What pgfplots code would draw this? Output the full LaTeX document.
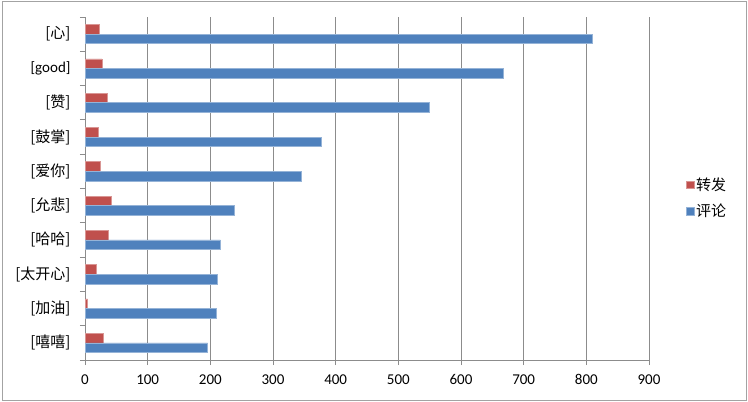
\documentclass[border=0pt]{standalone}
\usepackage{fontspec}
\setmainfont{Carlito}
\newfontfamily\cjk{Noto Sans CJK SC}
\usepackage{pgfplots}
\pgfplotsset{compat=1.18}
\definecolor{zfred}{HTML}{C0504D}
\definecolor{plblue}{HTML}{4F81BD}
\definecolor{gridgray}{HTML}{8C8C8C}

\begin{document}
\begin{tikzpicture}
\path (0bp,0bp) rectangle (748bp,402bp);
\draw[gridgray!80, line width=1bp] (2.5bp,1.5bp) rectangle (746bp,400.5bp);
\begin{axis}[
  at={(85bp,42bp)}, anchor=south west,
  scale only axis, width=564bp, height=343bp,
  xbar, bar width=9.6bp,
  xmin=0, xmax=900, ymin=-0.5, ymax=9.5,
  xtick={0,100,...,900},
  ytick={0,...,9},
  yticklabels={{\cjk [嘻嘻]},{\cjk [加油]},{\cjk [太开心]},{\cjk [哈哈]},{\cjk [允悲]},{\cjk [爱你]},{\cjk [鼓掌]},{\cjk [赞]},[good],{\cjk [心]}},
  minor ytick={-0.5,0.5,...,9.5},
  axis x line*=bottom, axis y line*=left,
  axis line style={gridgray, line width=0.9bp, -},
  tick align=outside,
  major tick length=5bp, minor tick length=5bp,
  major y tick style={draw=none},
  minor y tick style={gridgray, line width=0.9bp},
  major x tick style={gridgray, line width=0.9bp},
  xmajorgrids, grid style={gridgray, line width=0.9bp},
  /pgf/number format/assume math mode=true,
  tick label style={font=\fontsize{15bp}{18bp}\selectfont, text=black},
  xticklabel style={yshift=-6bp},
  yticklabel style={xshift=-6bp},
  legend style={draw=none, fill=none, at={(1.066,0.472)}, anchor=west,
    font=\fontsize{15bp}{18bp}\selectfont\cjk, row sep=8bp,
    inner sep=0pt},
  legend cell align=left,
  legend image code/.code={\fill[#1] (0bp,-3.6bp) rectangle (7.2bp,3.6bp);},
]
\addplot[fill=zfred, draw=zfred!60!white, line width=0.5bp, bar shift=4.8bp]
  coordinates {(28.7,0) (4.3,1) (17.5,2) (36.7,3) (42.5,4) (24.5,5) (21,6) (35,7) (27,8) (23.4,9)};
\addlegendentry{转发}
\addplot[fill=plblue, draw=plblue!60!white, line width=0.5bp, bar shift=-4.8bp]
  coordinates {(195.7,0) (209.5,1) (211.6,2) (216,3) (238.7,4) (344.5,5) (377,6) (550,7) (668,8) (809,9)};
\addlegendentry{评论}
\end{axis}
\end{tikzpicture}
\end{document}
